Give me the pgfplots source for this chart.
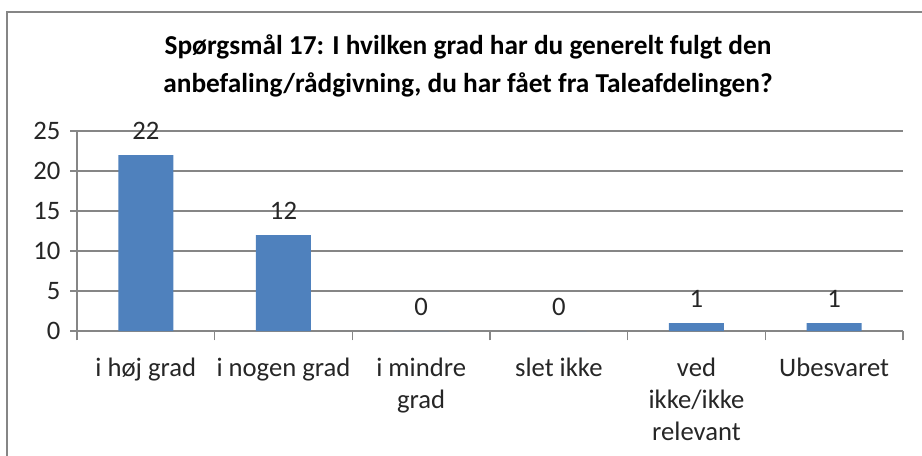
\documentclass[border=0pt]{standalone}
\usepackage{pgfplots}
\pgfplotsset{compat=1.18}
\usepackage{fontspec}
\setmainfont{Carlito}
\definecolor{barblue}{HTML}{4F81BD}
\definecolor{gridgray}{HTML}{868686}
\definecolor{txt}{HTML}{262626}
\begin{document}
\begin{tikzpicture}[x=0.75pt,y=0.75pt]
\useasboundingbox (0,0) rectangle (922,455);
\draw[gridgray,line width=1.2pt] (7,-5) -- (7,443) -- (930,443);
\node[font=\bfseries\fontsize{20.5}{28.5}\selectfont,align=center,text=black] at (468,389) {Spørgsmål 17: I hvilken grad har du generelt fulgt den\\anbefaling/rådgivning, du har fået fra Taleafdelingen?};
\coordinate (o) at (77,124);
\begin{axis}[
  at={(o)}, anchor=south west,
  scale only axis, width=619.5pt, height=150pt,
  xmin=-0.5, xmax=5.5, ymin=0, ymax=25,
  ytick={0,5,...,25},
  xtick={0,...,5},
  xticklabels={i høj grad, i nogen grad, i mindre\\grad, slet ikke, ved\\ikke/ikke\\relevant, Ubesvaret},
  minor xtick={-0.5,0.5,...,5.5},
  major x tick style={draw=none},
  minor tick length=7pt,
  major tick length=5pt,
  tick align=outside,
  ymajorgrids, grid style={gridgray, line width=0.8pt},
  axis x line*=bottom, axis y line*=left,
  axis line style={gridgray, line width=0.8pt},
  every tick/.style={gridgray, line width=0.8pt},
  tick label style={font=\fontsize{20}{24}\selectfont, text=txt},
  xticklabel style={align=center, yshift=-12pt},
  yticklabel style={xshift=-4pt},
  /pgf/number format/assume math mode=true,
  ybar, bar width=41.25pt,
  nodes near coords,
  every node near coord/.append style={font=\fontsize{20}{24}\selectfont, text=txt, yshift=8pt},
  clip=false,
]
\addplot[fill=barblue, draw=none] coordinates {(0,22) (1,12) (2,0) (3,0) (4,1) (5,1)};
\end{axis}
\end{tikzpicture}
\end{document}
